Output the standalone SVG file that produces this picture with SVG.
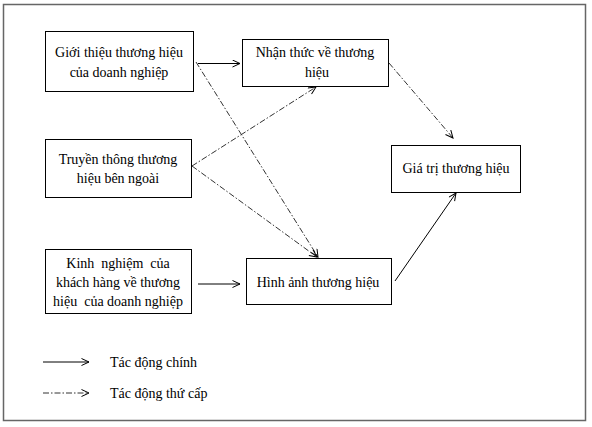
<svg xmlns="http://www.w3.org/2000/svg" width="592" height="427" viewBox="0 0 592 427">
<defs>
<marker id="ah" markerUnits="userSpaceOnUse" markerWidth="10" markerHeight="10" refX="8" refY="4" orient="auto">
<path d="M0.5,0.5 L8,4 L0.5,7.5" fill="none" stroke="#000" stroke-width="1"/>
</marker>
</defs>
<style>
.box{fill:#fff;stroke:#000;stroke-width:1}
text{font-family:"Liberation Serif","Times New Roman",serif;font-size:14px;fill:#000;text-anchor:middle;white-space:pre}
.lg{text-anchor:start}
.main{stroke:#000;stroke-width:1;fill:none;marker-end:url(#ah)}
.sec{stroke:#333;stroke-width:1;fill:none;stroke-dasharray:6 2 1.5 2;marker-end:url(#ah)}
</style>
<rect x="3.5" y="4.5" width="582" height="416" fill="#fff" stroke="#666" stroke-width="1.5"/>
<g id="connectors">
<line class="main" x1="198" y1="63.5" x2="240" y2="63.5"/>
<line class="main" x1="198" y1="284" x2="240" y2="284"/>
<line class="main" x1="395" y1="281" x2="456" y2="193"/>
<line class="sec" x1="196" y1="62" x2="318" y2="257"/>
<line class="sec" x1="192" y1="166" x2="316" y2="87"/>
<line class="sec" x1="192" y1="166" x2="317" y2="257"/>
<line class="sec" x1="389" y1="63" x2="453" y2="138"/>
</g>
<g id="n1"><rect class="box" x="45.5" y="31.5" width="148" height="60"/><text x="119" y="57">Giới thiệu thương hiệu</text><text x="119" y="77">của doanh nghiệp</text></g>
<g id="n2"><rect class="box" x="242.5" y="39.5" width="146" height="47"/><text x="315" y="57">Nhận thức về thương</text><text x="317" y="77">hiệu</text></g>
<g id="n3"><rect class="box" x="45.5" y="139.5" width="146" height="58"/><text x="118" y="164">Truyền thông thương</text><text x="118" y="183">hiệu bên ngoài</text></g>
<g id="n4"><rect class="box" x="391.5" y="145.5" width="129" height="47"/><text x="456" y="173">Giá trị thương hiệu</text></g>
<g id="n5"><rect class="box" x="45.5" y="249.5" width="146" height="64"/><text x="118" y="268">Kinh  nghiệm  của</text><text x="118" y="287">khách hàng về thương</text><text x="118" y="306">hiệu  của doanh nghiệp</text></g>
<g id="n6"><rect class="box" x="246.5" y="258.5" width="145" height="46"/><text x="318" y="287">Hình ảnh thương hiệu</text></g>
<g id="legend">
<line class="main" x1="43" y1="362" x2="89" y2="362"/>
<text class="lg" x="110" y="367">Tác động chính</text>
<line class="sec" x1="43" y1="393" x2="89" y2="393"/>
<text class="lg" x="110" y="398">Tác động thứ cấp</text>
</g>
</svg>
